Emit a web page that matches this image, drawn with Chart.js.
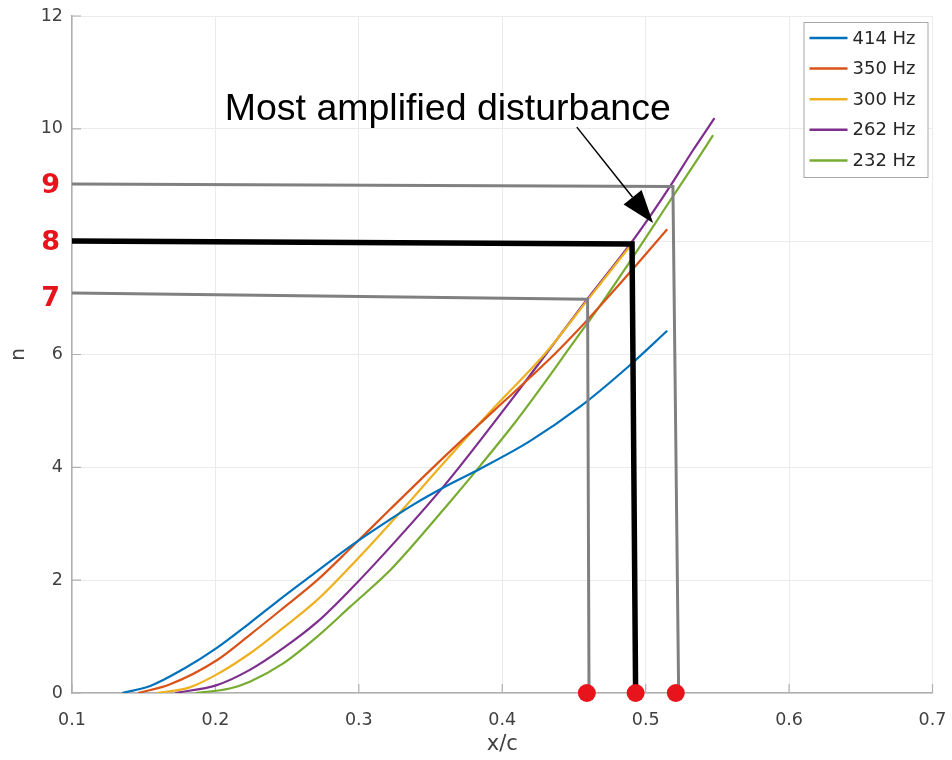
<!DOCTYPE html>
<html>
<head>
<meta charset="utf-8">
<script src="https://cdn.jsdelivr.net/npm/chart.js@4.4.1/dist/chart.umd.min.js"></script>
<style>
  html, body { margin: 0; padding: 0; background: #fff; }
  #wrap { width: 952px; height: 760px; position: relative; }
</style>
</head>
<body>
<div id="wrap"><canvas id="chart"></canvas></div>
<script>
// growth curves n(x/c)
const labels = ['414 Hz', '350 Hz', '300 Hz', '262 Hz', '232 Hz'];
const colors = ['#0072BD', '#D95319', '#EDB120', '#7E2F8E', '#77AC30'];

const x414 = [0.135, 0.155, 0.178, 0.201, 0.224, 0.247, 0.271, 0.294, 0.322, 0.338, 0.361, 0.385, 0.419, 0.454, 0.489, 0.515];
const n414 = [0, 0.13, 0.43, 0.8, 1.24, 1.7, 2.16, 2.6, 3.08, 3.34, 3.67, 3.98, 4.46, 5.07, 5.81, 6.42];

const x350 = [0.146, 0.168, 0.201, 0.224, 0.247, 0.271, 0.294, 0.322, 0.361, 0.394, 0.431, 0.456, 0.471, 0.494, 0.515];
const n350 = [0, 0.15, 0.58, 1.03, 1.5, 2.0, 2.56, 3.26, 4.22, 5.0, 5.87, 6.52, 6.94, 7.6, 8.22];

const x300 = [0.159, 0.182, 0.201, 0.224, 0.247, 0.271, 0.294, 0.322, 0.361, 0.394, 0.431, 0.459, 0.49];
const n300 = [0, 0.1, 0.33, 0.7, 1.15, 1.65, 2.24, 3.01, 4.13, 5.05, 6.05, 6.95, 7.95];

const x262 = [0.172, 0.201, 0.224, 0.247, 0.271, 0.294, 0.322, 0.361, 0.408, 0.459, 0.489, 0.503, 0.517, 0.533, 0.548];
const n262 = [0, 0.14, 0.41, 0.79, 1.26, 1.83, 2.59, 3.72, 5.25, 6.97, 7.95, 8.45, 8.98, 9.62, 10.19];

const x232 = [0.186, 0.21, 0.224, 0.247, 0.271, 0.294, 0.322, 0.336, 0.36, 0.385, 0.41, 0.431, 0.447, 0.471, 0.491, 0.515, 0.541, 0.547];
const n232 = [0, 0.08, 0.2, 0.52, 1.0, 1.53, 2.18, 2.57, 3.28, 4.04, 4.83, 5.55, 6.12, 6.97, 7.72, 8.65, 9.65, 9.89];

// hand drawn guide lines and markers
const guide9X = [0.1, 0.519, 0.523];
const guide9N = [9.02, 8.98, 0];
const guide8X = [0.1, 0.4905, 0.493];
const guide8N = [8.01, 7.96, 0];
const guide7X = [0.1, 0.4595, 0.4605];
const guide7N = [7.09, 6.98, 0];
const dotX = [0.459, 0.493, 0.521];
const dotN = [0, 0, 0];

const redLabels = [9, 8, 7];
const noteText = 'Most amplified disturbance';
const noteAt = [0.362, 10.16];
const arrowFrom = [0.452, 10.03];
const arrowTo = [0.5052, 8.33];

const xTicks = [0.1, 0.2, 0.3, 0.4, 0.5, 0.6, 0.7];
const yTicks = [0, 2, 4, 6, 8, 10, 12];

const toPoints = (xs, ys) => xs.map((x, i) => ({ x: x, y: ys[i] }));

const curveSets = [[x414, n414], [x350, n350], [x300, n300], [x262, n262], [x232, n232]].map(([xs, ys], i) => ({
    label: labels[i],
    data: toPoints(xs, ys),
    borderColor: colors[i],
    backgroundColor: colors[i],
    borderWidth: 2.2,
    pointRadius: 0,
    cubicInterpolationMode: 'monotone',
    fill: false,
    order: 3
}));

const guideSet = (xs, ys, color, width) => ({
    label: 'guide',
    data: toPoints(xs, ys),
    borderColor: color,
    borderWidth: width,
    pointRadius: 0,
    tension: 0,
    fill: false,
    borderJoinStyle: 'miter',
    order: 2
});

const datasets = curveSets.concat([
    guideSet(guide9X, guide9N, '#808080', 3),
    guideSet(guide7X, guide7N, '#808080', 3),
    guideSet(guide8X, guide8N, '#000000', 5.5),
    {
        label: 'dots',
        data: toPoints(dotX, dotN),
        showLine: false,
        pointRadius: 9,
        pointBackgroundColor: '#e8141c',
        pointBorderWidth: 0,
        clip: false,
        order: 1
    }
]);

const axisColor = '#b0b0b0';
const textColor = '#404040';

const overlay = {
    id: 'overlay',
    beforeDatasetsDraw(chart) {
        // MATLAB style inward ticks
        const { ctx, chartArea: a, scales: { x, y } } = chart;
        ctx.save();
        ctx.strokeStyle = axisColor;
        ctx.lineWidth = 1.2;
        ctx.beginPath();
        yTicks.forEach(v => {
            const py = y.getPixelForValue(v);
            ctx.moveTo(a.left, py);
            ctx.lineTo(a.left + 9, py);
        });
        xTicks.forEach(v => {
            const px = x.getPixelForValue(v);
            ctx.moveTo(px, a.bottom);
            ctx.lineTo(px, a.bottom - 9);
        });
        ctx.stroke();
        ctx.restore();
    },
    afterDraw(chart) {
        const { ctx, chartArea: a, scales: { x, y } } = chart;
        ctx.save();

        // red level labels
        ctx.fillStyle = '#e8141c';
        ctx.font = 'bold 27px "DejaVu Sans"';
        ctx.textAlign = 'right';
        ctx.textBaseline = 'middle';
        redLabels.forEach(v => ctx.fillText(String(v), a.left - 12, y.getPixelForValue(v) + 1));

        // annotation text
        ctx.fillStyle = '#000';
        ctx.font = '37.5px "Liberation Sans"';
        ctx.textAlign = 'center';
        ctx.textBaseline = 'alphabetic';
        ctx.fillText(noteText, x.getPixelForValue(noteAt[0]), y.getPixelForValue(noteAt[1]));

        // arrow
        const x0 = x.getPixelForValue(arrowFrom[0]), y0 = y.getPixelForValue(arrowFrom[1]);
        const x1 = x.getPixelForValue(arrowTo[0]), y1 = y.getPixelForValue(arrowTo[1]);
        const ang = Math.atan2(y1 - y0, x1 - x0);
        const headLen = 33, headHalf = 11.5;
        const bx = x1 - headLen * Math.cos(ang), by = y1 - headLen * Math.sin(ang);
        ctx.strokeStyle = '#000';
        ctx.lineWidth = 1.5;
        ctx.beginPath();
        ctx.moveTo(x0, y0);
        ctx.lineTo(bx, by);
        ctx.stroke();
        ctx.beginPath();
        ctx.moveTo(x1, y1);
        ctx.lineTo(bx + headHalf * Math.sin(ang), by - headHalf * Math.cos(ang));
        ctx.lineTo(bx - headHalf * Math.sin(ang), by + headHalf * Math.cos(ang));
        ctx.closePath();
        ctx.fillStyle = '#000';
        ctx.fill();

        // legend box
        const bw = 124, bh = 155;
        const lx = a.right - 5 - bw, ly = a.top + 6;
        ctx.fillStyle = '#fff';
        ctx.fillRect(lx, ly, bw, bh);
        ctx.strokeStyle = '#a8a8a8';
        ctx.lineWidth = 1;
        ctx.strokeRect(lx + 0.5, ly + 0.5, bw, bh);
        ctx.font = '18px "DejaVu Sans"';
        ctx.textAlign = 'left';
        ctx.textBaseline = 'middle';
        labels.forEach((lab, i) => {
            const ey = ly + 16 + i * 30.6;
            ctx.strokeStyle = colors[i];
            ctx.lineWidth = 2.5;
            ctx.beginPath();
            ctx.moveTo(lx + 6, ey);
            ctx.lineTo(lx + 44, ey);
            ctx.stroke();
            ctx.fillStyle = '#262626';
            ctx.fillText(lab, lx + 49, ey + 1);
        });
        ctx.restore();
    }
};

new Chart(document.getElementById('chart'), {
    type: 'line',
    data: { datasets: datasets },
    options: {
        responsive: true,
        maintainAspectRatio: false,
        animation: false,
        layout: { padding: { top: 16, right: 19.5, left: 0, bottom: 0 } },
        plugins: {
            legend: { display: false },
            tooltip: { enabled: false }
        },
        scales: {
            x: {
                type: 'linear',
                min: 0.1,
                max: 0.7,
                afterFit: s => { s.height = 67; s.paddingLeft = 0; s.paddingRight = 0; },
                ticks: {
                    stepSize: 0.1,
                    padding: 17,
                    color: textColor,
                    font: { family: 'DejaVu Sans', size: 17.5 },
                    callback: v => Number(v).toFixed(1)
                },
                grid: { color: '#ebebeb', drawTicks: false },
                border: { color: axisColor, width: 1.5 },
                title: {
                    display: true,
                    text: 'x/c',
                    color: textColor,
                    font: { family: 'DejaVu Sans', size: 21 },
                    padding: { top: 0, bottom: 3 }
                }
            },
            y: {
                min: 0,
                max: 12,
                afterFit: s => { s.width = 72; s.paddingTop = 0; s.paddingBottom = 0; },
                ticks: {
                    stepSize: 2,
                    padding: 9,
                    color: c => (c.tick && redLabels.includes(c.tick.value)) ? 'rgba(0,0,0,0)' : textColor,
                    font: { family: 'DejaVu Sans', size: 17.5 }
                },
                grid: { color: '#ebebeb', drawTicks: false },
                border: { color: axisColor, width: 1.5 },
                title: {
                    display: true,
                    text: 'n',
                    color: textColor,
                    font: { family: 'DejaVu Sans', size: 20 },
                    padding: { top: 7, bottom: 0 }
                }
            }
        }
    },
    plugins: [overlay]
});
</script>
</body>
</html>
